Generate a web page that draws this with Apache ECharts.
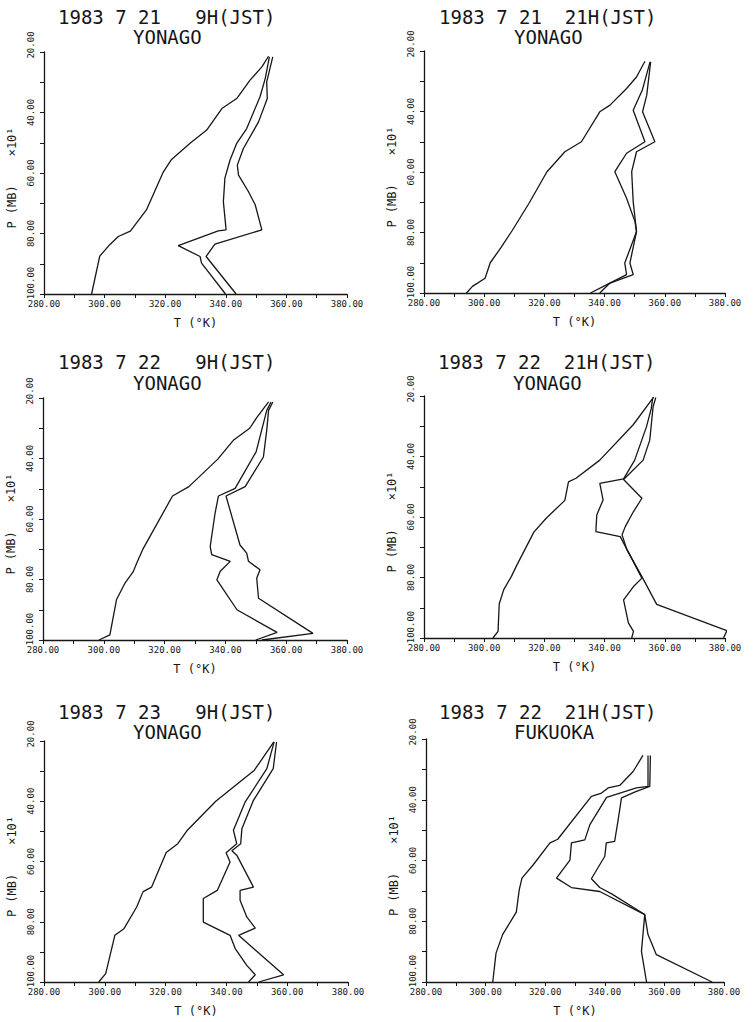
<!DOCTYPE html>
<html>
<head>
<meta charset="utf-8">
<script src="https://cdn.jsdelivr.net/npm/echarts@6/dist/echarts.min.js"></script>
<style>
html,body{margin:0;padding:0;background:#fff;}
#chart{width:753px;height:1022px;}
</style>
</head>
<body>
<div id="chart"></div>
<script>
// ---------- DATA : [T (K), P (mb x10)] from surface (100) upward ----------
const dateLines = ['1983 7 21   9H(JST)', '1983 7 21  21H(JST)', '1983 7 22   9H(JST)', '1983 7 22  21H(JST)', '1983 7 23   9H(JST)', '1983 7 22  21H(JST)'];
const stations = ['YONAGO', 'YONAGO', 'YONAGO', 'YONAGO', 'YONAGO', 'FUKUOKA'];
const xTicks = [280, 300, 320, 340, 360, 380];
const yTicks = [20, 40, 60, 80, 100];

const p1Theta = [[295.7,100],[298.4,87.5],[301.7,83.7],[304.5,81],[308.5,79.2],[313.8,72.2],[319.4,59.6],[322.1,55.5],[328.2,50.2],[333.7,45.8],[338.7,38.7],[343.6,35.4],[348,29.3],[351.9,24.9],[354.1,21.4]];
const p1ThetaE = [[339.9,100],[332,89.8],[331.5,87.6],[324.3,84],[337.5,79.1],[340.1,78.8],[339.2,69.5],[339.7,61.7],[341.4,55.7],[343.6,50.2],[346.9,45.3],[351.3,34.8],[353,28.8],[354.4,21.6]];
const p1ThetaES = [[343.4,100],[333.5,87.6],[336.4,83.5],[351.9,78.8],[349.7,70.5],[347.5,66.2],[344.2,60.7],[343.8,57.4],[345.8,51.9],[350.8,43.1],[353.7,35.4],[353.5,29.9],[355.5,21.6]];

const p2Theta = [[294.1,100],[296.1,97.8],[300.3,95.1],[302,90],[305.5,85.1],[309.2,79.5],[314.8,70.5],[320.8,60],[326.8,53.3],[332.3,50],[338.4,40.1],[341.8,37.9],[347.3,32.4],[350.6,28.6],[353.4,23.4]];
const p2ThetaE = [[335.3,100],[340.6,97.3],[347.3,93.9],[346.7,90.1],[350.6,79.7],[350.1,76.4],[347.3,68.7],[343.4,59.9],[347.3,53.8],[353.4,50],[349.5,39.6],[352.5,33],[355.1,23.6]];
const p2ThetaES = [[338.4,100],[341.8,96.7],[349.5,93.9],[348.4,90.1],[350.6,79.7],[349.5,69.8],[349,59.9],[350.6,53.3],[356.7,50],[352.6,40.1],[354,34.6],[355.3,23.6]];

const p3Theta = [[298.4,100],[302,98.3],[304.2,86.6],[306.9,81.3],[309.7,77.4],[310.8,74.6],[313,69.7],[322.6,52.4],[328,49.3],[337.5,40.2],[342.6,34],[348,30],[350.3,26.5],[354.2,21.3]];
const p3ThetaE = [[350,100],[357,97.5],[343.8,90],[337.2,80.1],[338.3,77.3],[341.6,74],[335.5,71.8],[335,69.1],[336.6,58.1],[337.7,52.4],[343.2,49.9],[350.1,37.8],[353.6,24.1],[355,21.3]];
const p3ThetaES = [[352,100],[368.8,97.8],[350.9,86.2],[350.3,79.6],[351.4,76.8],[347.6,74],[347,71.3],[344.8,68.6],[340.2,52.4],[346.5,49.3],[352.5,39.5],[353.6,30.6],[354.2,24.1],[355.6,21.3]];

const p4Theta = [[302.9,100],[304.6,97.8],[305,88.7],[306.5,84],[309,79.7],[310.8,76],[316.5,65],[320.6,60.4],[326.8,54.5],[328,48.4],[330.5,47.2],[338.4,41.2],[349.5,29.5],[356.3,20.4]];
const p4ThetaE = [[349,100],[349.6,97.8],[347.9,95],[346.3,87.4],[349.6,83],[352.4,80.2],[345.2,66.5],[337.1,64.8],[337.4,59.3],[339.5,54.4],[338.4,48.9],[346.3,47.4],[350,41.2],[353.9,30.2],[355.5,24.2],[356,20.5]];
const p4ThetaES = [[379.5,100],[380.6,97.6],[357.3,88.9],[352.4,79.7],[347.4,70.8],[345.8,65.9],[346.9,63.1],[349.6,58.2],[352.4,53.8],[346.3,47.6],[352.8,41.2],[355,34.6],[356.1,23.6],[357,20.5]];

const p5Theta = [[298,100],[300.3,97.2],[303.3,84.5],[306.3,82.3],[310.5,75.1],[312.6,70],[315.4,68.5],[320.2,57],[324,54.1],[327,49.8],[336.5,40],[349.2,29.7],[355.6,20.3]];
const p5ThetaE = [[347.3,100],[349.5,97.6],[346.7,94.5],[342.9,88.9],[341.2,84.5],[332.4,80.1],[332.4,72.3],[337,69.6],[341.2,60.2],[339.9,57.1],[343.4,54.1],[342.3,49.6],[346.2,40.2],[353.3,29.2],[355.7,20.3]];
const p5ThetaES = [[350.6,100],[358.8,97.6],[344,84.5],[349.5,82.1],[346.7,78.4],[344.5,72.9],[344.5,69.6],[348.9,68.5],[343.4,57.9],[341.8,56.4],[344.7,54.1],[345.1,49.1],[348.9,39.7],[355.4,29.2],[356.5,20.3]];

const p6Theta = [[302.4,100],[303.5,90.5],[305.7,84.4],[310.3,77],[311.3,69.6],[312.2,65.8],[316,61.4],[321.6,54.2],[324.2,53],[335.5,38.9],[338.9,37.8],[341.1,36.1],[345,35.3],[349.5,30.7],[352.8,25.4]];
const p6ThetaE = [[354,100],[352.3,89.9],[352.8,84.4],[353.4,77.8],[338.3,70.2],[328.8,68.9],[323.8,65.8],[328.3,59.9],[328.8,54.2],[333.3,53.2],[335,48.2],[340.6,39.2],[350.6,36.1],[354.5,35.6],[354.5,25.4]];
const p6ThetaES = [[376,100],[357.3,91],[354.5,84.4],[353.4,77.8],[342.3,71],[338.3,68.9],[335.5,66],[340,58.6],[340.5,54.2],[343.3,53.7],[344.4,47.1],[345.6,39.4],[350.4,37.3],[355.1,35.6],[355.3,25.4]];

const panels = [
  [p1Theta, p1ThetaE, p1ThetaES],
  [p2Theta, p2ThetaE, p2ThetaES],
  [p3Theta, p3ThetaE, p3ThetaES],
  [p4Theta, p4ThetaE, p4ThetaES],
  [p5Theta, p5ThetaE, p5ThetaES],
  [p6Theta, p6ThetaE, p6ThetaES]
];

// ---------- LAYOUT ----------
const MONO = 'DejaVu Sans Mono';
const INK = '#161616';
const grids = [
  {left:44, top:52, width:303, height:242},
  {left:424, top:51, width:301, height:242},
  {left:43, top:398, width:304, height:242},
  {left:424, top:396, width:301, height:242},
  {left:44, top:741, width:304, height:241},
  {left:426, top:739, width:298, height:243}
];
const titlePos = [
  {x:58, y1:17, y2:37},
  {x:439, y1:17, y2:37},
  {x:58, y1:362, y2:383},
  {x:438, y1:362, y2:383},
  {x:58, y1:712, y2:732},
  {x:439, y1:712, y2:732}
];

const chart = echarts.init(document.getElementById('chart'), null, {renderer:'svg'});

const xAxes = [], yAxes = [], series = [], graphics = [];
grids.forEach((g, i) => {
  xAxes.push({
    gridIndex:i, type:'value', min:280, max:380, interval:10,
    name:'T (°K)', nameLocation:'middle', nameGap:23,
    nameTextStyle:{fontFamily:MONO, fontSize:12, color:INK},
    axisLine:{show:true, lineStyle:{color:INK, width:1.3}},
    axisTick:{show:true, length:4, lineStyle:{color:INK, width:1}},
    splitLine:{show:false},
    axisLabel:{
      margin:5, fontFamily:MONO, fontSize:9, color:INK, showMinLabel:true, showMaxLabel:true,
      formatter:v => (xTicks.indexOf(v) >= 0 ? v.toFixed(2) : '')
    }
  });
  yAxes.push({
    gridIndex:i, type:'value', min:20, max:100, interval:10, inverse:true,
    name:'P (MB)    ×10¹', nameLocation:'middle', nameGap:26,
    nameTextStyle:{fontFamily:MONO, fontSize:12, color:INK, padding:[0,10,0,0]},
    axisLine:{show:true, lineStyle:{color:INK, width:1.3}},
    axisTick:{show:true, length:4, lineStyle:{color:INK, width:1}},
    splitLine:{show:false},
    axisLabel:{
      rotate:90, margin:9, fontFamily:MONO, fontSize:9, color:INK, showMinLabel:true, showMaxLabel:true,
      formatter:v => {
        if (yTicks.indexOf(v) < 0) return '';
        if (v === 20) return '{top|' + v.toFixed(2) + '}';
        if (v === 100) return '{bot|' + v.toFixed(2) + '}';
        return v.toFixed(2);
      },
      rich:{
        top:{fontFamily:MONO, fontSize:9, color:INK, padding:[0,0,0,14]},
        bot:{fontFamily:MONO, fontSize:9, color:INK, padding:[0,0,0,22]}
      }
    }
  });
  panels[i].forEach(d => {
    series.push({
      type:'line', xAxisIndex:i, yAxisIndex:i, data:d,
      showSymbol:false, symbol:'none', clip:false, silent:true,
      lineStyle:{color:INK, width:1.3}
    });
  });
  const t = titlePos[i];
  graphics.push({type:'text', x:t.x, y:t.y1, style:{text:dateLines[i], fontFamily:MONO, fontSize:19, fill:INK, textAlign:'left', align:'left', textVerticalAlign:'middle', verticalAlign:'middle'}});
  graphics.push({type:'text', x:t.x + 75, y:t.y2, style:{text:stations[i], fontFamily:MONO, fontSize:19, fill:INK, textAlign:'left', align:'left', textVerticalAlign:'middle', verticalAlign:'middle'}});
});

chart.setOption({
  backgroundColor:'#fff',
  animation:false,
  grid:grids.map(g => Object.assign({containLabel:false}, g)),
  xAxis:xAxes,
  yAxis:yAxes,
  series:series,
  graphic:graphics
});
</script>
</body>
</html>
